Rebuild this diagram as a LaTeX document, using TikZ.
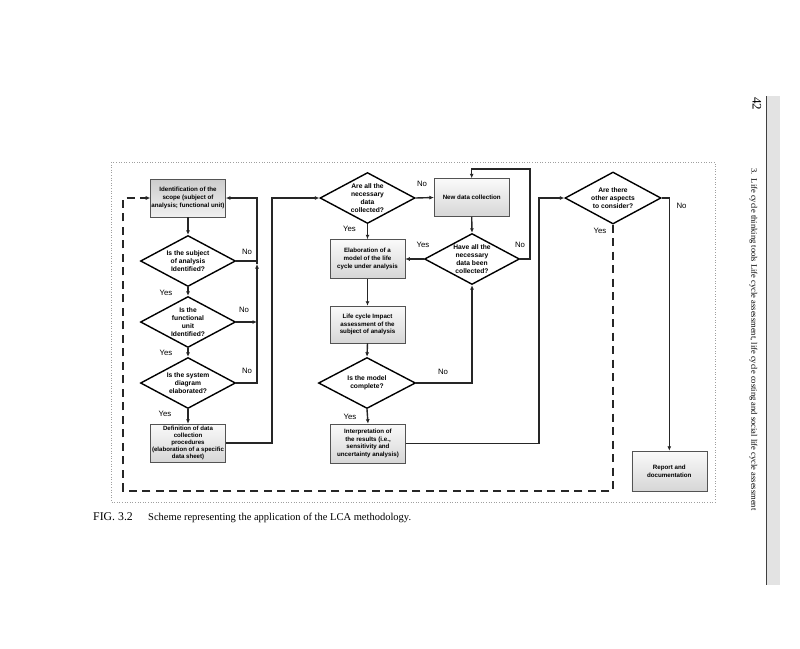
\documentclass[tikz,border=0pt]{standalone}
\usepackage{fontspec}
\setmainfont{Liberation Serif}
\setsansfont{Liberation Sans}
\usetikzlibrary{shapes.geometric,arrows.meta}
\tikzset{
  procbox/.style={rectangle, draw=gray!65!black, line width=0.5pt,
    top color=gray!4, bottom color=gray!32, minimum width=75pt, minimum height=38pt,
    inner sep=1pt, align=center, font=\sffamily\bfseries\fontsize{6.2}{7.7}\selectfont},
  darkbox/.style={procbox, top color=gray!40, bottom color=gray!12},
  decision/.style={diamond, draw=black, line width=1.4pt, fill=white, inner sep=0pt,
    minimum width=95pt, minimum height=51pt},
  dtext/.style={align=center, font=\sffamily\bfseries\fontsize{6.7}{8.2}\selectfont},
  conn/.style={line width=1.4pt, draw=black!85},
  arr/.style={conn, -{Latex[length=4.5pt,width=4pt]}},
  dashconn/.style={line width=1.5pt, draw=black!85, dash pattern=on 8pt off 5.5pt},
  lab/.style={font=\sffamily\fontsize{7.8}{9}\selectfont, inner sep=0pt},
}
\begin{document}
\begin{tikzpicture}[x=1pt,y=-1pt]
\useasboundingbox (0,0) rectangle (800,648);
\fill[white] (0,0) rectangle (800,648);

% page elements
\fill[gray!22] (766.5,96) rectangle (780,585);
\draw[line width=1pt, black!75] (766,96) -- (766,585);
\node[rotate=-90, anchor=center, font=\fontsize{13}{15}\selectfont, inner sep=0pt] (pagenum) at (757,103.5) {42};
\node[rotate=-90, anchor=west, font=\fontsize{8.5}{10}\selectfont, inner sep=0pt] (runhead) at (753.5,168)
  {3.\ \ Life cycle thinking tools Life cycle assessment, life cycle costing and social life cycle assessment};

% frame
\draw[gray!75, dotted, line width=0.6pt] (111,162) rectangle (715,502);

% left column
\node[darkbox, minimum height=38pt] (idb) at (188,198) {Identification of the\\scope (subject of\\analysis; functional unit)};
\node[decision, label={[dtext]center:{Is the subject\\of analysis\\Identified?}}] (d1) at (188,261) {};
\node[decision, label={[dtext]center:{Is the\\functional\\unit\\Identified?}}] (d2) at (188,322) {};
\node[decision, label={[dtext]center:{Is the system\\diagram\\elaborated?}}] (d3) at (188,383) {};
\node[procbox, inner sep=0pt, font=\sffamily\bfseries\fontsize{6.1}{7.2}\selectfont] (defb) at (188,443) {Definition of data\\collection\\procedures\\(elaboration of a specific\\data sheet)};

% middle column
\node[decision, label={[dtext]center:{Are all the\\necessary\\data\\collected?}}] (d4) at (367.5,198) {};
\node[procbox, minimum height=39pt] (elab) at (367.5,259) {Elaboration of a\\model of the life\\cycle under analysis};
\node[procbox, minimum height=37pt] (lcia) at (367.5,324.5) {Life cycle Impact\\assessment of the\\subject of analysis};
\node[decision, minimum width=97pt, label={[dtext]center:{Is the model\\complete?}}] (d6) at (367,383) {};
\node[procbox, minimum height=39pt] (interp) at (368,443.5) {Interpretation of\\the results (i.e.,\\sensitivity and\\uncertainty analysis)};

\node[procbox] (newd) at (471.7,197.5) {New data collection};
\node[decision, label={[dtext]center:{Have all the\\necessary\\data been\\collected?}}] (d5) at (472,259) {};

% right column
\node[decision, minimum width=96pt, minimum height=52pt, label={[dtext]center:{Are there\\other aspects\\to consider?}}] (d7) at (613,198) {};
\node[procbox, minimum height=40pt] (rep) at (669.3,471) {Report and\\documentation};

% coordinates
\coordinate (r1) at (257,261);
\coordinate (r2) at (257,322);
\coordinate (r3) at (257,383);
\coordinate (rtop) at (257,198);
\coordinate (rmid) at (257,264);
\coordinate (c1) at (272,443);
\coordinate (c2) at (272,198);
\coordinate (l1) at (530,259);
\coordinate (l2) at (530,169);
\coordinate (l3) at (471.7,169);
\coordinate (m1) at (472,383);
\coordinate (i1) at (539,443.5);
\coordinate (i2) at (539,198);
\coordinate (n1) at (669.3,198);
\coordinate (y1) at (613,491);
\coordinate (y2) at (123,491);
\coordinate (y3) at (123,198);

% left connectors
\draw[arr] (idb.south) -- (d1.north);
\draw[arr] (d1.south) -- (d2.north);
\draw[arr] (d2.south) -- (d3.north);
\draw[arr] (d3.south) -- (defb.north);
\draw[conn] (d1.east) -- (r1);
\draw[arr] (d2.east) -- (r2);
\draw[arr] (d3.east) -- (r3) -- (rmid);
\draw[arr] (rmid) -- (rtop) -- (idb.east);
\draw[arr] (defb.east) -- (c1) -- (c2) -- (d4.west);

% middle connectors
\draw[arr] (d4.south) -- (elab.north);
\draw[arr] (d4.east) -- (newd.west);
\draw[arr] (newd.south) -- (d5.north);
\draw[arr] (d5.west) -- (elab.east);
\draw[arr] (d5.east) -- (l1) -- (l2) -- (l3) -- (newd.north);
\draw[arr] (elab.south) -- (lcia.north);
\draw[arr] (lcia.south) -- (d6.north);
\draw[arr] (d6.east) -- (m1) -- (d5.south);
\draw[arr] (d6.south) -- (interp.north);
\draw[arr] (interp.east) -- (i1) -- (i2) -- (d7.west);

% right connectors
\draw[arr] (d7.east) -- (n1) -- (rep.north);
\draw[dashconn] (d7.south) -- (y1) -- (y2) -- (y3) -- ([xshift=-6pt]idb.west);
\draw[line width=1.5pt, draw=black!85, -{Latex[length=4.5pt,width=4.2pt]}] ([xshift=-6.5pt]idb.west) -- (idb.west);

% labels
\node[lab] (t1) at (247,252) {No};
\node[lab] (t2) at (166,293) {Yes};
\node[lab] (t3) at (244,310) {No};
\node[lab] (t4) at (166,353) {Yes};
\node[lab] (t5) at (247,371) {No};
\node[lab] (t6) at (165,414) {Yes};
\node[lab] (t7) at (422,184) {No};
\node[lab] (t8) at (349.5,228.5) {Yes};
\node[lab] (t9) at (423,245) {Yes};
\node[lab] (t10) at (520,245) {No};
\node[lab] (t11) at (443,372) {No};
\node[lab] (t12) at (350,417) {Yes};
\node[lab] (t13) at (681.5,206) {No};
\node[lab] (t14) at (600,231) {Yes};

% caption
\node[anchor=base west, inner sep=0pt, font=\fontsize{11.8}{13}\selectfont] (figno) at (93,520) {FIG. 3.2};
\node[anchor=base west, inner sep=0pt, font=\fontsize{10.5}{12}\selectfont] (cap) at (148,520) {Scheme representing the application of the LCA methodology.};
\end{tikzpicture}
\end{document}
